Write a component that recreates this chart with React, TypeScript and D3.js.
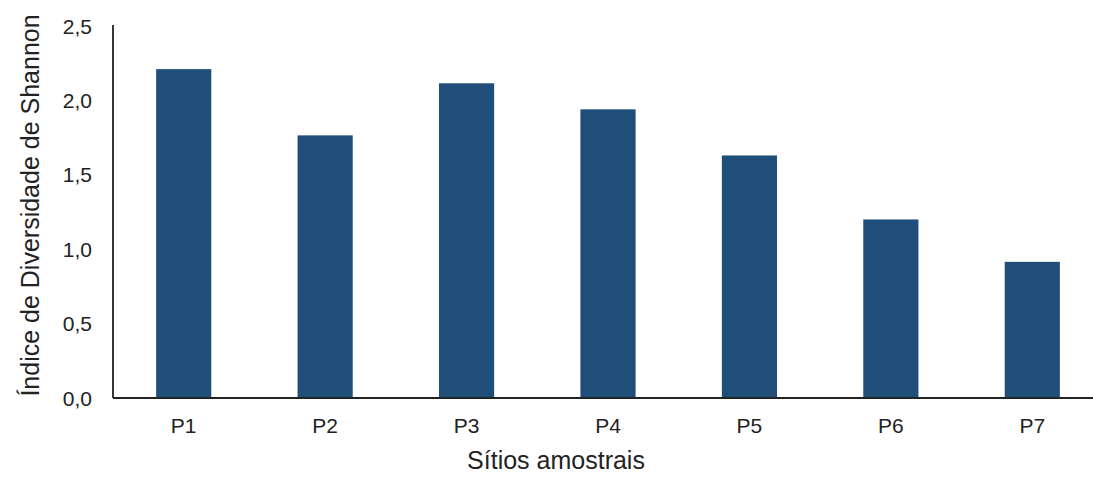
import React from "react";
import * as d3 from "d3";

const categories = ["P1", "P2", "P3", "P4", "P5", "P6", "P7"];
const values = [2.21, 1.765, 2.115, 1.94, 1.63, 1.2, 0.915];
const yTicks = [0, 0.5, 1.0, 1.5, 2.0, 2.5];
const xTitle = "Sítios amostrais";
const yTitle = "Índice de Diversidade de Shannon";

const W = 1093;
const H = 477;
const left = 113;
const bottom = 398;
const top = 26;

export default function App() {
  const x = d3
    .scaleBand<string>()
    .domain(categories)
    .range([left, left + 990])
    .paddingInner(0.61)
    .paddingOuter(0.305);
  const y = d3.scaleLinear().domain([0, 2.5]).range([bottom, top]);
  const fmt = (v: number) => d3.format(".1f")(v).replace(".", ",");
  const font = "'Liberation Sans', Arial, sans-serif";

  return (
    <svg
      width={W}
      height={H}
      style={{ position: "absolute", left: 0, top: 0, background: "#fff" }}
      fontFamily={font}
    >
      {categories.map((c, i) => (
        <rect
          key={c}
          x={x(c)}
          y={y(values[i])}
          width={x.bandwidth()}
          height={bottom - y(values[i])}
          fill="#1F4E79"
        />
      ))}
      <line x1={left} x2={left} y1={y(2.5) - 1} y2={bottom} stroke="#222" strokeWidth={1.8} />
      <line x1={left} x2={W} y1={bottom} y2={bottom} stroke="#222" strokeWidth={1.8} />
      {yTicks.map((t) => (
        <text
          key={t}
          x={92}
          y={y(t)}
          dy="0.36em"
          textAnchor="end"
          fontSize={21}
          fill="#222"
        >
          {fmt(t)}
        </text>
      ))}
      {categories.map((c) => (
        <text
          key={c}
          x={(x(c) as number) + x.bandwidth() / 2}
          y={433}
          textAnchor="middle"
          fontSize={21}
          fill="#222"
        >
          {c}
        </text>
      ))}
      <text x={556} y={469} textAnchor="middle" fontSize={25} fill="#222">
        {xTitle}
      </text>
      <text
        transform={`translate(39,${205.5}) rotate(-90)`}
        textAnchor="middle"
        fontSize={25}
        fill="#222"
      >
        {yTitle}
      </text>
    </svg>
  );
}
